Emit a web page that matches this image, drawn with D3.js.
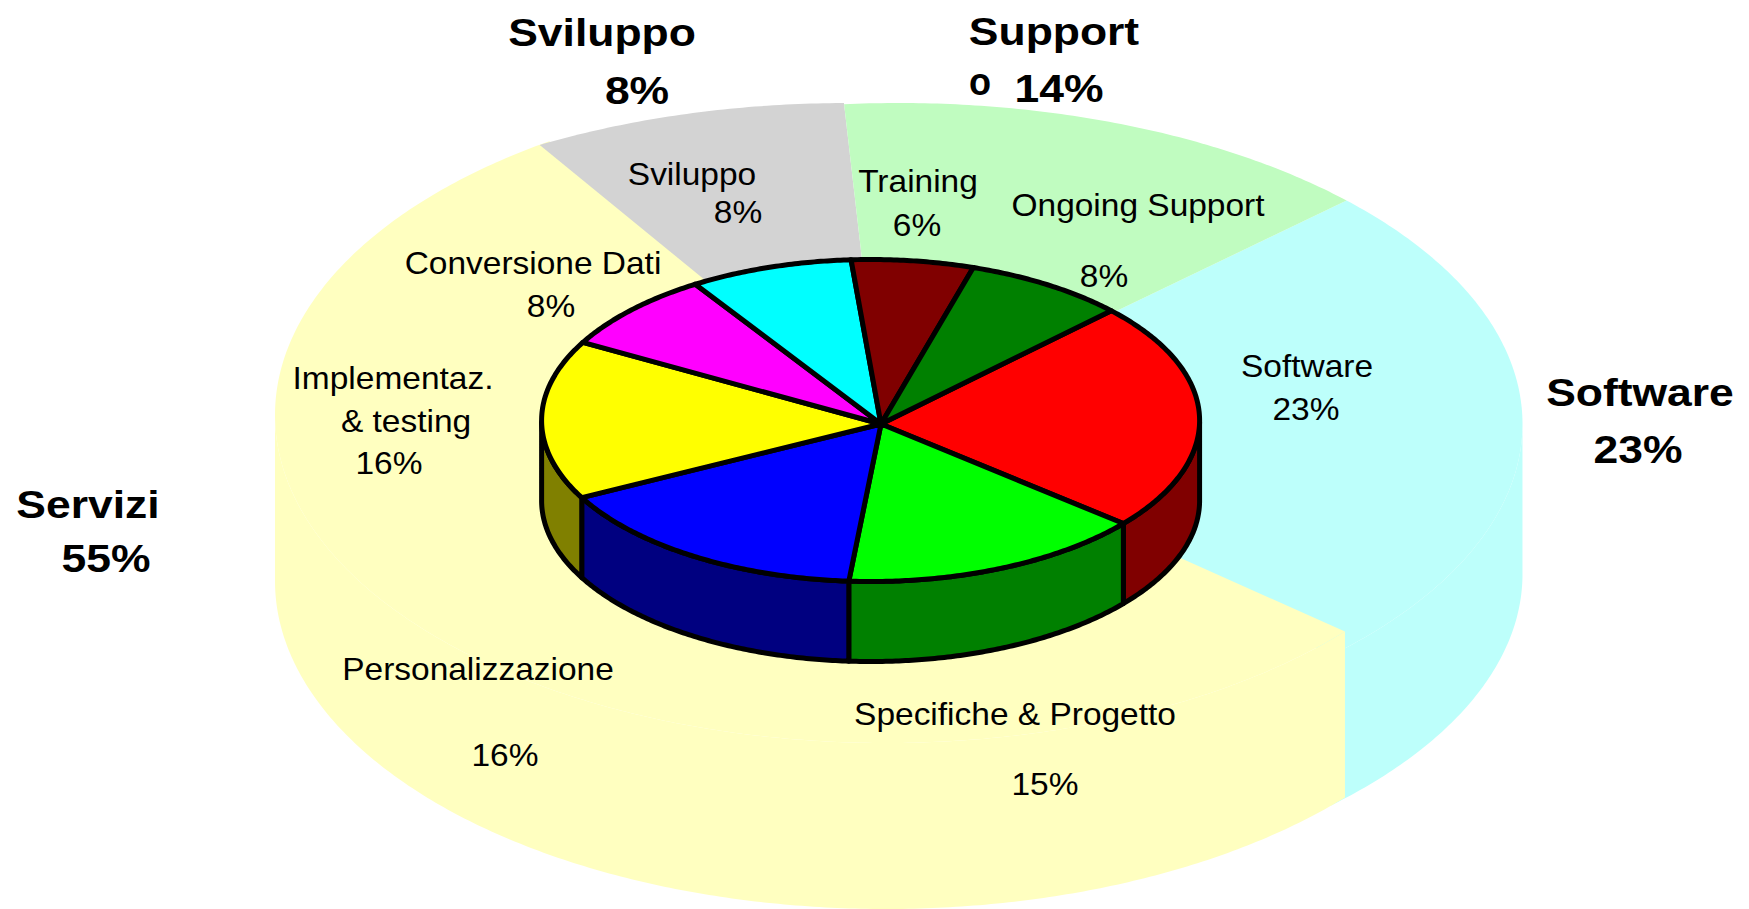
<!DOCTYPE html>
<html>
<head>
<meta charset="utf-8">
<script src="https://cdn.jsdelivr.net/npm/d3@7/dist/d3.min.js"></script>
<style>
  html, body { margin: 0; padding: 0; background: #fff; }
  text { font-family: "Liberation Sans", Arial, sans-serif; fill: #000; }
</style>
</head>
<body>
<svg id="chart" width="1749" height="909"></svg>
<script>
// Project cost breakdown: detail slices and their four groups
const sliceNames = ["Software", "Specifiche & Progetto", "Personalizzazione", "Implementaz.", "Conversione Dati", "Sviluppo", "Training", "Ongoing Support"];
const sliceValues = [23, 15, 16, 16, 8, 8, 6, 8];
const sliceTopColors = ["#ff0000", "#00ff00", "#0000ff", "#ffff00", "#ff00ff", "#00ffff", "#800000", "#008000"];
const sliceSideColors = ["#800000", "#008000", "#000080", "#808000", "#800080", "#008080", "#400000", "#004000"];

const groupNames = ["Software", "Servizi", "Sviluppo", "Support"];
const groupValues = [23, 55, 8, 14];
const groupColors = ["#bdfffb", "#ffffc0", "#d3d3d3", "#c0fcc0"];

// Text placement: [text, centre x, baseline y]
const groupLabels = [
  ["Sviluppo", 602, 46], ["8%", 637, 104],
  ["Support", 1054, 45], ["14%", 1059, 102],
  ["Software", 1640, 406], ["23%", 1638, 463],
  ["Servizi", 88, 518], ["55%", 106, 572]
];
const markerLabels = [["o", 980, 95]];
const sliceLabels = [
  ["Sviluppo", 692, 185], ["8%", 738, 223],
  ["Training", 918, 192], ["6%", 917, 236],
  ["Ongoing Support", 1138, 216], ["8%", 1104, 287],
  ["Conversione Dati", 533, 274], ["8%", 551, 317],
  ["Implementaz.", 393, 389], ["& testing", 406, 432], ["16%", 389, 474],
  ["Software", 1307, 377], ["23%", 1306, 420],
  ["Personalizzazione", 478, 680], ["16%", 505, 766],
  ["Specifiche & Progetto", 1015, 725], ["15%", 1045, 795]
];

const apex = { x: 881, y: 424 };
const inner = { cx: 870.6, cy: 420.5, rx: 329, ry: 161, h: 80 };
// Each group slab has a slightly different rim
const groupRims = [
  { cx: 899, cy: 424, rx: 623.5, ry: 321, h: 150 },
  { cx: 886, cy: 415, rx: 611, ry: 328, h: 166 },
  { cx: 848, cy: 424, rx: 623.5, ry: 321, h: 164 },
  { cx: 899, cy: 424, rx: 623.5, ry: 321, h: 164 }
];
// Software's wall runs on a little behind Servizi so no gap opens at the seam
const groupSeamOverlap = [0.09, 0, 0, 0];
const startAngle = 47 * Math.PI / 180;

const svg = d3.select("#chart");
const pie = d3.pie().sort(null).startAngle(startAngle).endAngle(startAngle + 2 * Math.PI);
const line = d3.line().x(d => d[0]).y(d => d[1]);

// Angles along an arc, sampled finely enough to read as a smooth curve
const arcAngles = (a, b) => d3.range(a, b, 0.01).concat([b]);

// Point on the detail pie's rim
const innerRim = a => [inner.cx + inner.rx * Math.sin(a), inner.cy - inner.ry * Math.cos(a)];

// Point on a group's rim, found along a ray leaving the shared apex
function outerRim(a, rim) {
  const dx = rim.rx * Math.sin(a), dy = -rim.ry * Math.cos(a);
  const ox = apex.x - rim.cx, oy = apex.y - rim.cy;
  const A = (dx / rim.rx) ** 2 + (dy / rim.ry) ** 2;
  const B = 2 * (ox * dx / rim.rx ** 2 + oy * dy / rim.ry ** 2);
  const C = (ox / rim.rx) ** 2 + (oy / rim.ry) ** 2 - 1;
  const t = (-B + Math.sqrt(B * B - 4 * A * C)) / (2 * A);
  return [apex.x + t * dx, apex.y + t * dy];
}

// Visible side wall under a run of rim points
function wallPoints(rimPoints, cy, h) {
  const front = rimPoints.filter(p => p[1] >= cy);
  if (front.length < 2) return null;
  return front.concat(front.slice().reverse().map(p => [p[0], p[1] + h]));
}

// Pale group pie behind everything; each group paints wall and face together,
// so Servizi lands cleanly over the end of Software
const groupArcs = pie(groupValues).map((d, i) => ({
  name: groupNames[i],
  color: groupColors[i],
  geometry: groupRims[i],
  rim: arcAngles(d.startAngle, d.endAngle + groupSeamOverlap[i]).map(a => outerRim(a, groupRims[i]))
}));
const groupCells = svg.append("g").attr("class", "groups")
  .selectAll("g").data(groupArcs).join("g")
  .attr("fill", d => d.color);
groupCells.append("path")
  .attr("d", d => { const w = wallPoints(d.rim, d.geometry.cy, d.geometry.h); return w ? line(w) + "Z" : null; });
groupCells.append("path")
  .attr("d", d => line([[apex.x, apex.y], ...d.rim]) + "Z");

// Detail pie: dark walls first, bright faces over them
const sliceArcs = pie(sliceValues).map((d, i) => ({
  name: sliceNames[i],
  top: sliceTopColors[i],
  side: sliceSideColors[i],
  rim: arcAngles(d.startAngle, d.endAngle).map(innerRim)
}));
const sliceLayer = svg.append("g").attr("class", "slices")
  .attr("stroke", "#000").attr("stroke-width", 5).attr("stroke-linejoin", "round");
sliceLayer.selectAll("path.wall").data(sliceArcs).join("path")
  .attr("class", "wall")
  .attr("d", d => { const w = wallPoints(d.rim, inner.cy, inner.h); return w ? line(w) + "Z" : null; })
  .attr("fill", d => d.side);
sliceLayer.selectAll("path.top").data(sliceArcs).join("path")
  .attr("class", "top")
  .attr("d", d => line([[apex.x, apex.y], ...d.rim]) + "Z")
  .attr("fill", d => d.top);

// The lettering is wider than the font's natural proportions, so each run is stretched
function drawLabels(rows, size, weight, stretch) {
  svg.append("g").selectAll("text").data(rows).join("text")
    .attr("transform", d => `translate(${d[1]},${d[2]}) scale(${stretch},1)`)
    .attr("text-anchor", "middle")
    .attr("font-size", size)
    .attr("font-weight", weight)
    .text(d => d[0]);
}
drawLabels(groupLabels, 39, "bold", 1.14);
drawLabels(markerLabels, 38, "bold", 0.95);
drawLabels(sliceLabels, 31, "normal", 1.08);
</script>
</body>
</html>
